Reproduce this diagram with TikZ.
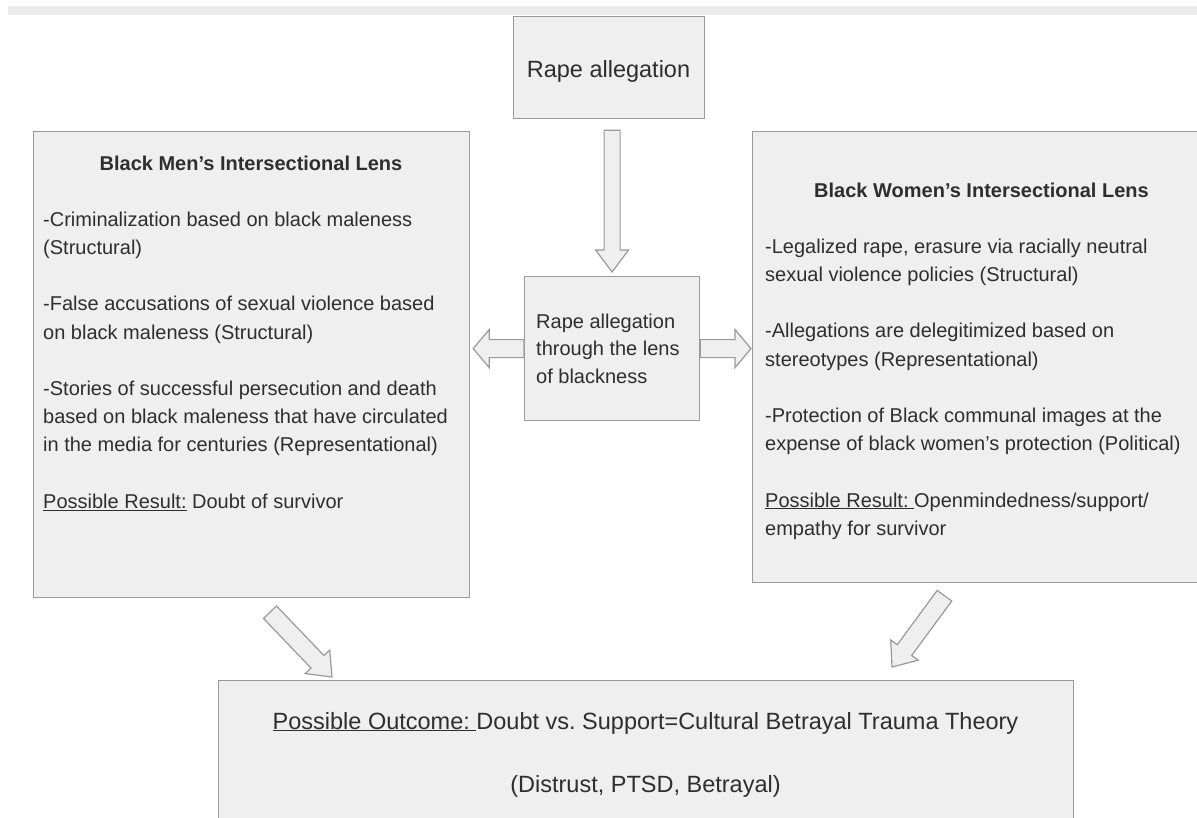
\documentclass[tikz,border=0pt]{standalone}
\usepackage{fontspec}
\setmainfont{Liberation Sans}
\usetikzlibrary{calc}
\definecolor{boxfill}{HTML}{EFEFEF}
\definecolor{boxline}{HTML}{9A9A9A}
\definecolor{txtc}{HTML}{2E2E2E}
\definecolor{band}{HTML}{EBEBEB}
\newcommand{\fatarrow}[5]{%
  \coordinate (faH) at ($(#2)!#5!(#1)$);
  \draw[fat] ($(#1)!#3!90:(#2)$) -- ($(faH)!#3!90:(#2)$) -- ($(faH)!#4!90:(#2)$) -- (#2)
    -- ($(faH)!#4!-90:(#2)$) -- ($(faH)!#3!-90:(#2)$) -- ($(#1)!#3!-90:(#2)$) -- cycle;}
\frenchspacing
\begin{document}
\begin{tikzpicture}[x=1pt,y=-1pt,
  box/.style={draw=boxline, line width=1.2pt, fill=boxfill, rectangle, inner sep=0pt, anchor=north west},
  body/.style={text=txtc, inner sep=0pt, anchor=north west, align=left, font=\fontsize{20}{28.2}\selectfont},
  ttl/.style={text=txtc, inner sep=0pt, anchor=base, font=\fontsize{20}{24}\selectfont\bfseries},
  big/.style={text=txtc, inner sep=0pt, anchor=base, font=\fontsize{23.5}{28}\selectfont},
  fat/.style={draw=boxline, line width=1.2pt, fill=boxfill, line join=miter}]
\useasboundingbox (0,0) rectangle (1197,817);
\clip (0,0) rectangle (1197,817);
\fill[white] (0,0) rectangle (1197,817);
\fill[band] (8,6) rectangle (1197,15);

% boxes
\node[box, minimum width=191pt, minimum height=102pt] (top) at (513,16) {};
\node[box, minimum width=175pt, minimum height=144pt] (mid) at (524,276) {};
\node[box, minimum width=436pt, minimum height=466pt] (men) at (33,131) {};
\node[box, minimum width=459pt, minimum height=451pt] (women) at (752,131) {};
\node[box, minimum width=855pt, minimum height=220pt] (outcome) at (218,680) {};

% texts
\node[big] (toptxt) at (608.5,77) {Rape allegation};
\node[body, font=\fontsize{20}{27.5}\selectfont] (midtxt) at (536,310)
  {\rule{0pt}{18pt}Rape allegation\\through the lens\\of blackness};

\node[ttl] (mentitle) at (251,170) {Black Men’s Intersectional Lens};
\node[body] (mentxt) at (43,208)
  {\rule{0pt}{18pt}-Criminalization based on black maleness\\
   (Structural)\\[28.2pt]
   -False accusations of sexual violence based\\
   on black maleness (Structural)\\[28.2pt]
   -Stories of successful persecution and death\\
   based on black maleness that have circulated\\
   in the media for centuries (Representational)\\[28.2pt]
   \underline{Possible Result:} Doubt of survivor};

\node[ttl] (womentitle) at (981.5,197) {Black Women’s Intersectional Lens};
\node[body] (womentxt) at (765,235)
  {\rule{0pt}{18pt}-Legalized rape, erasure via racially neutral\\
   sexual violence policies (Structural)\\[28.2pt]
   -Allegations are delegitimized based on\\
   stereotypes (Representational)\\[28.2pt]
   -Protection of Black communal images at the\\
   expense of black women’s protection (Political)\\[28.2pt]
   \underline{Possible Result:\ }Openmindedness/support/\\
   empathy for survivor};

\node[big] (outtxt1) at (645.5,729) {\underline{Possible Outcome:\ }Doubt vs.\ Support=Cultural Betrayal Trauma Theory};
\node[big] (outtxt2) at (645.5,792) {(Distrust, PTSD, Betrayal)};

% block arrows
\coordinate (d0) at ($(top.south)+(3,11)$);
\coordinate (d1) at ($(mid.north)+(0,-4)$);
\fatarrow{d0}{d1}{8pt}{16.5pt}{22pt}
\coordinate (l0) at (mid.west);
\coordinate (l1) at ($(mid.west -| men.east)+(3,0)$);
\fatarrow{l0}{l1}{9pt}{19pt}{16pt}
\coordinate (r0) at (mid.east);
\coordinate (r1) at ($(mid.east -| women.west)+(-1,0)$);
\fatarrow{r0}{r1}{9pt}{19pt}{16pt}
\coordinate (dl0) at ($(men.south west)+(237,14)$);
\coordinate (dl1) at ($(outcome.north west)+(114,-3)$);
\fatarrow{dl0}{dl1}{9pt}{17pt}{21pt}
\coordinate (dr0) at ($(women.south west)+(192.5,12.5)$);
\coordinate (dr1) at ($(outcome.north west)+(674,-13)$);
\fatarrow{dr0}{dr1}{9pt}{17pt}{21pt}
\end{tikzpicture}
\end{document}
